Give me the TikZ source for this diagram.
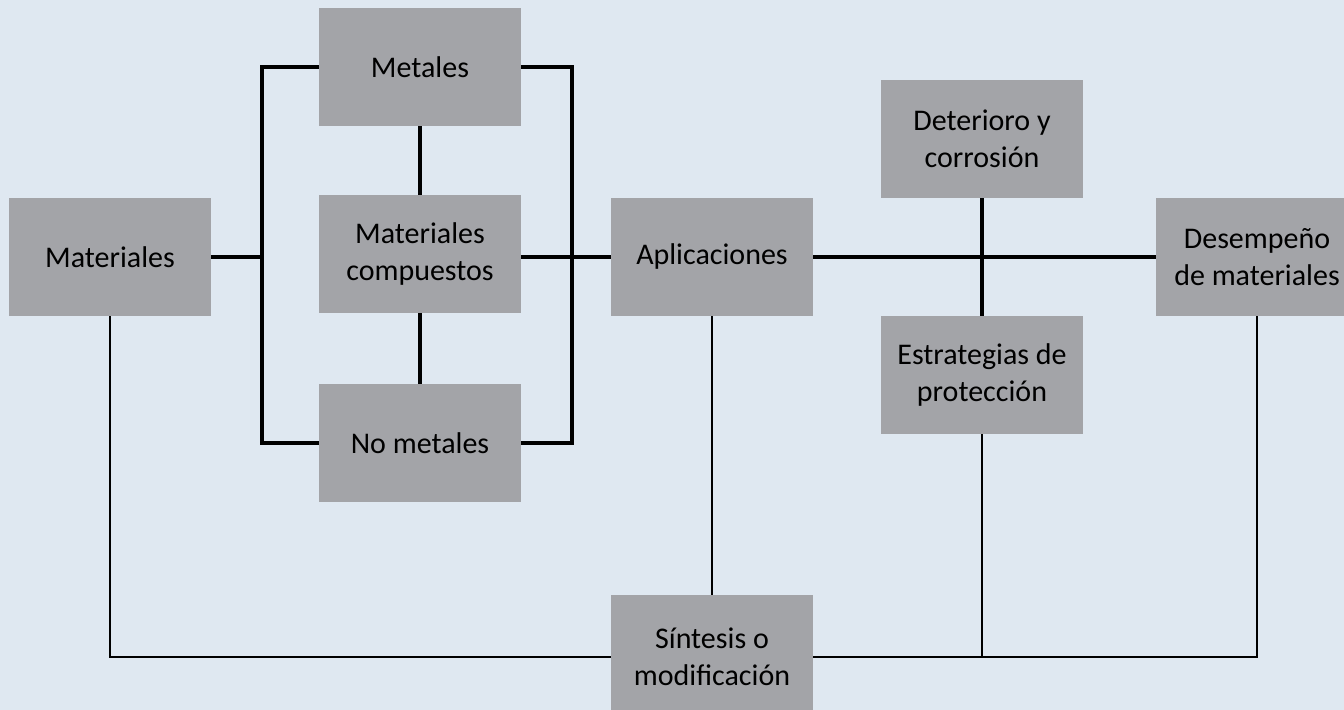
\documentclass[tikz,border=0pt]{standalone}
\usepackage{fontspec}
\setmainfont{Carlito}
\definecolor{fondo}{RGB}{223,232,241}
\definecolor{gris}{RGB}{163,164,168}
\begin{document}
\begin{tikzpicture}[x=0.5pt,y=-0.5pt,
    caja/.style={fill=gris,minimum width=101pt,minimum height=59pt,inner sep=0pt,
      align=center,font=\fontsize{15}{18.5}\selectfont},
    grueso/.style={line width=1.7pt},
    fino/.style={line width=1.2pt}]
      \useasboundingbox (0,0) rectangle (1344,710);
      \clip (0,0) rectangle (1344,710);
      \fill[fondo] (0,0) rectangle (1344,710);
      \node[caja] (mat) at (110,257) {Materiales};
      \node[caja] (met) at (420,67) {Metales};
      \node[caja] (comp) at (420,254) {Materiales\\compuestos};
      \node[caja] (nomet) at (420,443) {No metales};
      \node[caja] (apl) at (712,257) {Aplicaciones};
      \node[caja] (det) at (982,139) {Deterioro y\\corrosión};
      \node[caja] (est) at (982,375) {Estrategias de\\protección};
      \node[caja] (des) at (1257,257) {Desempeño\\de materiales};
      \node[caja,minimum height=62pt] (sin) at (712,657) {Síntesis o\\modificación};
      \coordinate (izq) at (262,257);
      \coordinate (der) at (572,257);
      \coordinate (abajo) at (982,657);
      \draw[grueso] (mat) -- (izq);
      \draw[grueso] (met.west) -| (izq) |- (nomet.west);
      \draw[grueso] (met.east) -| (der) |- (nomet.east);
      \draw[grueso] (met) -- (comp) -- (nomet);
      \draw[grueso] (comp.east |- apl.west) -- (apl.west);
      \draw[grueso] (apl) -- (des);
      \draw[grueso] (det) -- (est);
      \draw[fino] (mat) |- (sin);
      \draw[fino] (apl) -- (sin);
      \draw[fino] (sin) -| (des);
      \draw[fino] (est) -- (abajo);
\end{tikzpicture}
\end{document}
